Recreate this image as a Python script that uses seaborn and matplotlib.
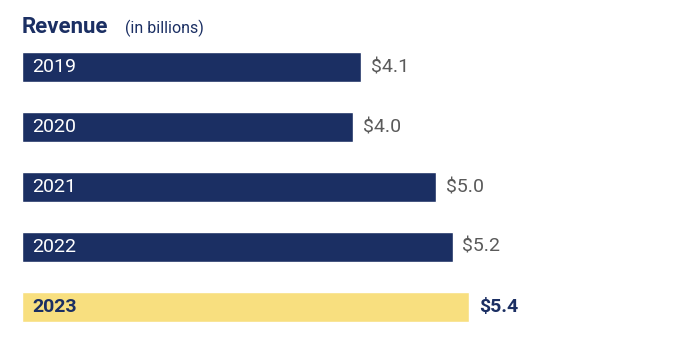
import matplotlib
matplotlib.use("Agg")
import matplotlib.pyplot as plt
import seaborn as sns
import pandas as pd

# data
years = ["2019", "2020", "2021", "2022", "2023"]
revenue = [4.1, 4.0, 5.0, 5.2, 5.4]
labels = ["$4.1", "$4.0", "$5.0", "$5.2", "$5.4"]

navy = "#1b2f63"
yellow = "#f8df7f"
colors = [navy, navy, navy, navy, yellow]

sns.set_theme(style="white")
plt.rcParams['font.family'] = ['Roboto', 'DejaVu Sans']

df = pd.DataFrame({"year": years, "revenue": revenue})

fig = plt.figure(figsize=(7, 3.5), dpi=100)
ax = fig.add_axes([22 / 700, 0, 678 / 700, 1])

sns.barplot(data=df, x="revenue", y="year", hue="year", palette=colors,
            orient="h", width=0.51, legend=False, ax=ax, saturation=1)

ax.set_xlim(0, 678 / 82.8)
ax.set_ylim(4 + 43 / 60, -67 / 60)
ax.axis("off")

for i, (yr, val, lab) in enumerate(zip(years, revenue, labels)):
    last = i == len(years) - 1
    ax.text(0.12, i, yr, va="center", ha="left", fontsize=14,
            color=navy if last else "white",
            fontweight="bold" if last else "normal")
    ax.text(val + 0.12, i, lab, va="center", ha="left", fontsize=14,
            color=navy if last else "#5a5a5a",
            fontweight="bold" if last else "normal")

fig.text(22 / 700, 1 - 27 / 350, "Revenue", fontsize=16, fontweight="bold",
         color=navy, va="center", ha="left")
fig.text(125 / 700, 1 - 28 / 350, "(in billions)", fontsize=11.5,
         color=navy, va="center", ha="left")

fig.savefig("out.png", dpi=100)
